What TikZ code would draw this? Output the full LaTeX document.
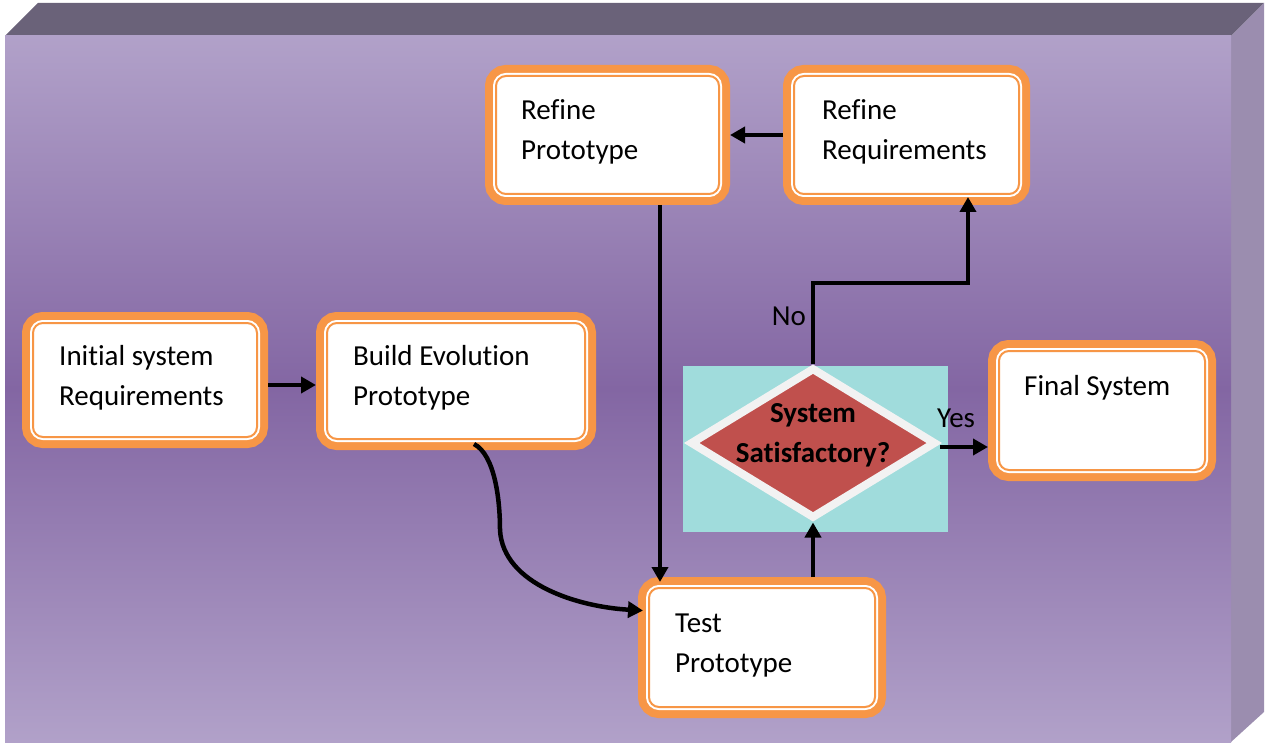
\documentclass[tikz,border=0pt]{standalone}
\usepackage{fontspec}
\setmainfont[Ligatures=NoCommon]{Carlito}
\usetikzlibrary{arrows.meta,shapes.geometric,calc}

\definecolor{topface}{HTML}{6A6279}
\definecolor{sideface}{HTML}{9B8DAF}
\definecolor{faceedge}{HTML}{B1A1C9}
\definecolor{facemid}{HTML}{8366A3}
\definecolor{orn}{HTML}{F79646}
\definecolor{teal}{HTML}{A0DCDC}
\definecolor{dred}{HTML}{C0504D}
\definecolor{wband}{HTML}{F2F2F2}

\begin{document}
\begin{tikzpicture}[x=1pt,y=-1pt,
  box/.style={rectangle, rounded corners=10pt, fill=white, draw=orn,
    line width=2pt, inner sep=0pt, outer sep=11pt,
    preaction={draw=orn, line width=22pt},
    preaction={draw=white, line width=6pt}},
  txt/.style={font=\fontsize{29}{40}\selectfont, align=left, inner sep=0pt,
    anchor=base west},
  btxt/.style={font=\fontsize{29}{40}\selectfont\bfseries, align=center,
    inner sep=0pt, anchor=base},
  conn/.style={line width=4.5pt, -{Triangle[length=15pt,width=16pt]}}]

\useasboundingbox (0,0) rectangle (1266,743);

% raised panel: top face, side face and shaded front face
\fill[topface] (5,36) -- (38,3) -- (1264,3) -- (1231,36) -- cycle;
\fill[sideface] (1231,36) -- (1264,3) -- (1264,712) -- (1231,742) -- cycle;
\shade[top color=faceedge, bottom color=faceedge, middle color=facemid]
  (5,36) rectangle (1231,742);

% decision backdrop
\fill[teal] (683,366) rectangle (948,532);

% process boxes
\node[box, minimum width=224pt, minimum height=114pt] (init)  at (145,380) {};
\node[box, minimum width=258pt, minimum height=116pt] (build) at (456,381) {};
\node[box, minimum width=223pt, minimum height=118pt] (refp)  at (607.5,135) {};
\node[box, minimum width=225pt, minimum height=118pt] (refr)  at (906.5,135) {};
\node[box, minimum width=226pt, minimum height=119pt] (test)  at (762,647.5) {};
\node[box, minimum width=206pt, minimum height=119pt] (final) at (1102,410.5) {};

% decision diamond
\node[diamond, fill=dred, draw=wband, line width=8pt, inner sep=0pt,
  minimum width=246pt, minimum height=151pt, outer sep=4pt] (dia) at (813,443) {};

% box texts (anchored on the baseline of their last line)
\node[txt] (tinit)  at (59,405)  {Initial system\\Requirements};
\node[txt] (tbuild) at (353,405) {Build Evolution\\Prototype};
\node[txt] (trefp)  at (521,160) {Refine\\Prototype};
\node[txt] (trefr)  at (822,160) {Refine\\Requirements};
\node[txt] (ttest)  at (675,672) {Test\\Prototype};
\node[txt] (tfinal) at (1024,395) {Final System};
\node[btxt] (tdia)  at (813,462) {System\\Satisfactory?};

% branch labels
\node[txt, anchor=base east] (lno)  at (806,325) {No};
\node[txt] (lyes) at (937,427) {Yes};

% connectors
\coordinate (down) at (660,0);
\coordinate (turn) at (968,283);
\draw[conn] ([yshift=-5pt]init.east) -- ([yshift=-5pt]build.west |- init.east);
\draw[conn] (refr.west) -- (refp.east);
\draw[conn] (refp.south -| down) -- ($(test.north -| down)+(0,5)$);
\draw[conn] (test.north -| dia.south) -- (dia.south);
\draw[conn] (dia.north) |- (turn) -- ($(turn |- refr.south)+(0,-8)$);
\draw[conn] ([yshift=-4pt]dia.east) -- ([yshift=-4pt]final.west |- dia.east);
\draw[conn]
  ($(build.south)+(18,-6)$) .. controls (495,455) and (500,500) .. (500,530)
  .. controls (503,585) and (580,607) .. ($(test.west)+(5,-37)$);
\end{tikzpicture}
\end{document}
